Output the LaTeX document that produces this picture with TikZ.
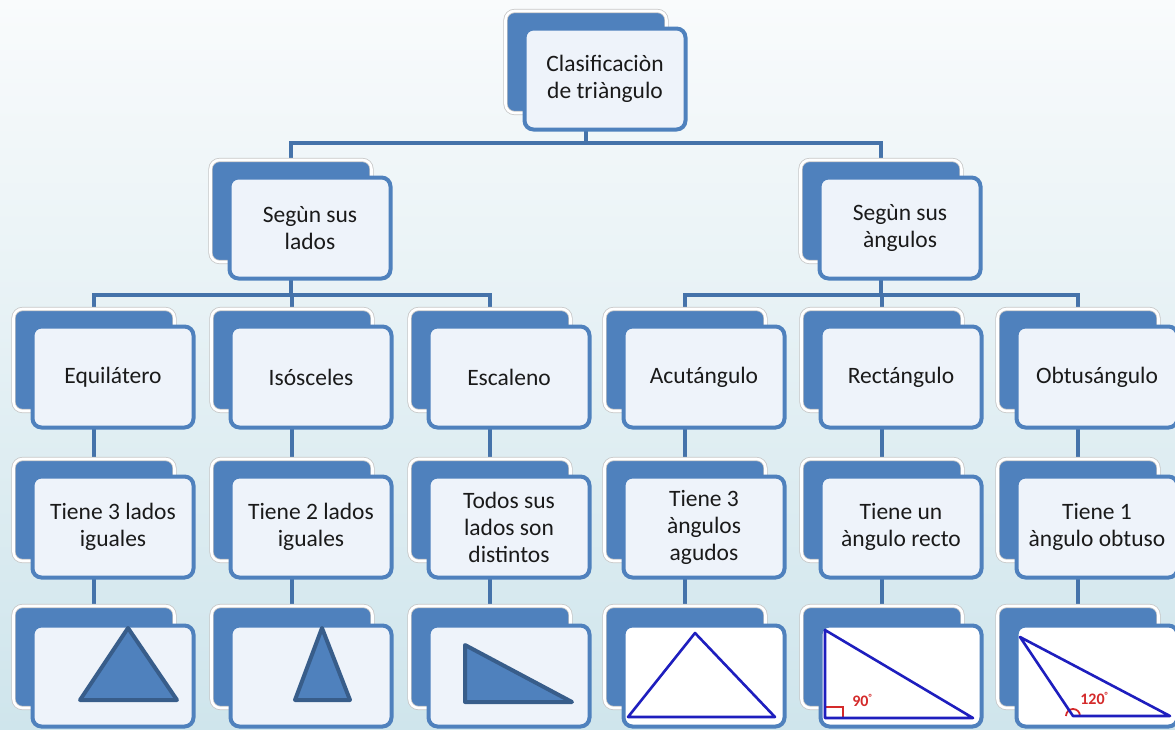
\documentclass[tikz,border=0pt]{standalone}
\usepackage{fontspec}
\setmainfont{Carlito}
\usetikzlibrary{calc}
\pgfdeclarelayer{layshade}
\pgfdeclarelayer{layconn}
\pgfsetlayers{layshade,layconn,main}
\definecolor{ofblue}{HTML}{4F81BD}
\definecolor{lnblue}{HTML}{4573AA}
\definecolor{frontfill}{HTML}{EEF3FA}
\definecolor{tridark}{HTML}{385D8A}
\definecolor{triblue}{HTML}{1E1EBE}
\definecolor{markred}{HTML}{D42A2A}
\definecolor{txt}{HTML}{1A1A1A}
\definecolor{bgtop}{HTML}{F9FBFC}
\definecolor{bgbot}{HTML}{CFE5EC}
\tikzset{
  backbox/.style={draw=black!22, line width=0.8pt, double=white, double distance=2.6pt,
    fill=ofblue, rounded corners=9pt, minimum width=161pt, minimum height=102pt, inner sep=0pt},
  frontbox/.style={draw=ofblue, line width=4pt, fill=frontfill, rounded corners=9pt,
    minimum width=161pt, minimum height=101pt, inner sep=0pt, align=center,
    font=\fontsize{23.5}{27}\selectfont, text=txt},
  picbox/.style={frontbox, fill=white},
  conn/.style={draw=lnblue, line width=4.5pt},
  solidtri/.style={fill=ofblue, draw=tridark, line width=4pt, line join=round},
  linetri/.style={draw=triblue, line width=2.6pt, line join=round},
  redmark/.style={draw=markred, line width=1.8pt},
  redlabel/.style={text=markred, font=\fontsize{16}{16}\selectfont\bfseries, inner sep=0pt}
}
\begin{document}
\begin{tikzpicture}[x=1pt,y=-1pt]
\useasboundingbox (0,0) rectangle (1175,729);
\begin{pgfonlayer}{layshade}
\shade[top color=bgtop, bottom color=bgbot] (0,0) rectangle (1175,729);
\end{pgfonlayer}

% level 1
\node[backbox] (b0) at (586,62) {};
\node[frontbox] (f0) at (605,79) {Clasificaciòn\\de triàngulo};
% level 2
\node[backbox] (bL) at (291,211) {};
\node[frontbox] (fL) at (310,228) {Segùn sus\\lados};
\node[backbox] (bR) at (881,211) {};
\node[frontbox] (fR) at (900,228) {Segùn sus\\àngulos};
% level 3
\node[backbox] (b31) at (94,360) {};
\node[frontbox] (f31) at (113,377) {Equilátero};
\node[backbox] (b32) at (292,360) {};
\node[frontbox] (f32) at (311,377) {Isósceles};
\node[backbox] (b33) at (490,360) {};
\node[frontbox] (f33) at (509,377) {Escaleno};
\node[backbox] (b34) at (685,360) {};
\node[frontbox] (f34) at (704,377) {Acutángulo};
\node[backbox] (b35) at (882,360) {};
\node[frontbox] (f35) at (901,377) {Rectángulo};
\node[backbox] (b36) at (1078,360) {};
\node[frontbox] (f36) at (1097,377) {Obtusángulo};
% level 4
\node[backbox] (b41) at (94,510) {};
\node[frontbox] (f41) at (113,527) {Tiene 3 lados\\iguales};
\node[backbox] (b42) at (292,510) {};
\node[frontbox] (f42) at (311,527) {Tiene 2 lados\\iguales};
\node[backbox] (b43) at (490,510) {};
\node[frontbox] (f43) at (509,527) {Todos sus\\lados son\\distintos};
\node[backbox] (b44) at (685,510) {};
\node[frontbox] (f44) at (704,527) {Tiene 3\\àngulos\\agudos};
\node[backbox] (b45) at (882,510) {};
\node[frontbox] (f45) at (901,527) {Tiene un\\àngulo recto};
\node[backbox] (b46) at (1078,510) {};
\node[frontbox] (f46) at (1097,527) {Tiene 1\\àngulo obtuso};
% level 5
\node[backbox] (b51) at (94,657) {};
\node[frontbox] (f51) at (113,676) {};
\node[backbox] (b52) at (292,657) {};
\node[frontbox] (f52) at (311,676) {};
\node[backbox] (b53) at (490,657) {};
\node[frontbox] (f53) at (509,676) {};
\node[backbox] (b54) at (685,657) {};
\node[picbox] (f54) at (704,676) {};
\node[backbox] (b55) at (882,657) {};
\node[picbox] (f55) at (901,676) {};
\node[backbox] (b56) at (1078,657) {};
\node[picbox] (f56) at (1097,676) {};

% pictures
\draw[solidtri] (128,628) -- (80,700) -- (177,700) -- cycle;
\draw[solidtri] (322,628) -- (295,700) -- (350,700) -- cycle;
\draw[solidtri] (465,645) -- (465,702) -- (572,702) -- cycle;
\draw[linetri] (695,633) -- (628,717) -- (775,717) -- cycle;
\draw[redmark] (825,707) -- (843,707) -- (843,718);
\draw[linetri] (825,630) -- (825,718) -- (973,718) -- cycle;
\node[redlabel] (l90) at (862,700) {90\raisebox{6pt}{\fontsize{9}{9}\selectfont °}};
\draw[redmark] (1066,716) arc[start angle=180, end angle=360, radius=7];
\draw[linetri] (1020,637) -- (1073,716) -- (1170,716) -- cycle;
\node[redlabel] (l120) at (1094,698) {120\raisebox{6pt}{\fontsize{9}{9}\selectfont °}};

% connectors
\coordinate (j0) at (0,143);
\coordinate (j1) at (0,295);
\begin{pgfonlayer}{layconn}
\draw[conn] (b0.center) -- (b0.center |- j0);
\draw[conn] (bL.center) -- (bL.center |- j0) -- (bR.center |- j0) -- (bR.center);
\draw[conn] (bL.center) -- (bL.center |- j1);
\draw[conn] (bR.center) -- (bR.center |- j1);
\draw[conn] (b31.center) -- (b31.center |- j1) -- (b33.center |- j1) -- (b33.center);
\draw[conn] (b32.center) -- (b32.center |- j1);
\draw[conn] (b34.center) -- (b34.center |- j1) -- (b36.center |- j1) -- (b36.center);
\draw[conn] (b35.center) -- (b35.center |- j1);
\foreach \i in {1,...,6}{
  \draw[conn] (b3\i.center) -- (b4\i.center);
  \draw[conn] (b4\i.center) -- (b5\i.center);
}
\end{pgfonlayer}
\end{tikzpicture}
\end{document}
